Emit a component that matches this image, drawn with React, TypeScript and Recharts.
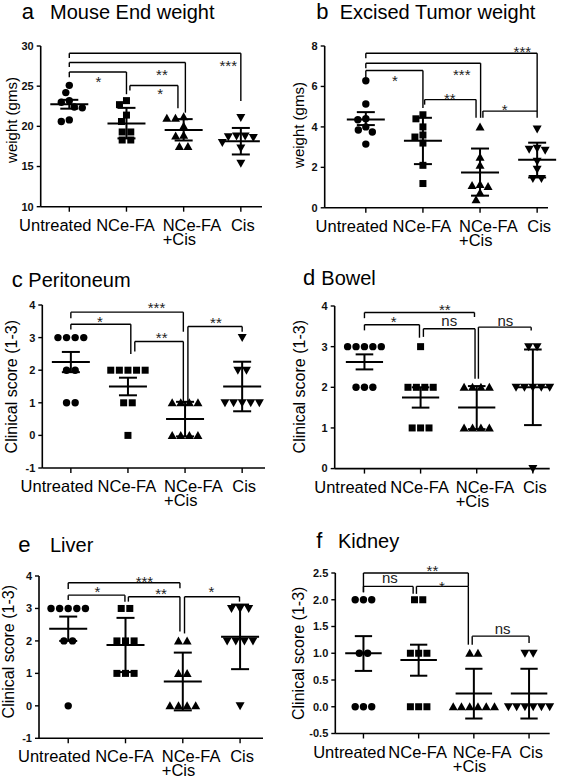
import React from 'react';
import { ScatterChart, Scatter, XAxis, YAxis, ReferenceLine, ReferenceDot } from 'recharts';

const FONT = "Arial, 'Liberation Sans', Helvetica, sans-serif";

const categories = ['Untreated', 'NCe-FA', 'NCe-FA+Cis', 'Cis'];

// ---------- a: Mouse End weight ----------
const aUntreated = [25.1, 24.2, 23.2, 23.0, 22.4, 22.3, 20.8, 20.6];
const aNceFa = [23.2, 22.7, 21.4, 20.6, 19.3, 19.3, 18.3, 18.3];
const aNceFaCis = [21.2, 21.0, 21.0, 20.0, 18.9, 18.8, 17.5, 17.5];
const aCis = [21.1, 18.8, 18.8, 18.7, 18.6, 18.0, 17.3, 15.4];
const aMean = [22.75, 20.35, 19.55, 18.15];
const aHigh = [23.3, 22.3, 20.9, 19.8];
const aLow = [22.2, 18.5, 18.24, 16.5];
const aTicks = [10, 15, 20, 25, 30];
const aBrackets = [
  { x1: 0, x2: 3, y: 29.1, y1: 28.5, y2: 23.15, label: '***', lx: 2.78, ly: 27.87 },
  { x1: 0, x2: 2.03, y: 27.95, y1: 27.4, y2: 21.7, label: '**', lx: 1.62, ly: 26.85 },
  { x1: 0, x2: 1, y: 26.76, y1: 26.1, y2: 24.0, label: '*', lx: 0.51, ly: 25.94 },
  { x1: 1.06, x2: 1.9, y: 25.08, y1: 24.47, y2: 22.25, label: '*', lx: 1.59, ly: 24.4 },
];

// ---------- b: Excised Tumor weight ----------
const bUntreated = [6.28, 5.13, 4.4, 4.35, 4.0, 3.85, 3.75, 3.15];
const bNceFa = [4.6, 4.4, 4.0, 3.6, 3.5, 3.2, 2.1, 1.2];
const bNceFaCis = [4.0, 2.5, 2.1, 1.15, 1.1, 1.05, 0.75, 0.4];
const bCis = [3.9, 2.95, 2.9, 2.85, 2.3, 1.9, 1.45, 1.45];
const bMean = [4.37, 3.31, 1.75, 2.37];
const bHigh = [4.73, 4.45, 2.93, 3.22];
const bLow = [4.09, 2.16, 0.6, 1.5];
const bTicks = [0, 2, 4, 6, 8];
const bBrackets = [
  { x1: 0, x2: 3, y: 7.64, y1: 7.4, y2: 4.78, label: '***', lx: 2.74, ly: 7.86 },
  { x1: 0, x2: 2.01, y: 7.15, y1: 6.9, y2: 4.45, label: '***', lx: 1.68, ly: 6.74 },
  { x1: 0, x2: 1, y: 6.79, y1: 6.45, y2: 4.94, label: '*', lx: 0.51, ly: 6.42 },
  { x1: 1.03, x2: 1.93, y: 5.35, y1: 5.1, y2: 4.45, label: '**', lx: 1.47, ly: 5.52 },
  { x1: 2.05, x2: 3, y: 4.78, y1: 4.45, y2: 4.45, label: '*', lx: 2.43, ly: 4.98 },
];

// ---------- c: Peritoneum ----------
const cUntreated = [3, 3, 3, 3, 2, 2, 1, 1];
const cNceFa = [2, 2, 2, 2, 2, 1, 1, 0];
const cNceFaCis = [1, 1, 1, 1, 0, 0, 0, 0];
const cCis = [3, 2, 2, 1, 1, 1, 1, 1];
const cMean = [2.25, 1.5, 0.5, 1.5];
const cHigh = [2.56, 1.77, 1.03, 2.26];
const cLow = [1.94, 1.23, -0.03, 0.74];
const cTicks = [-1, 0, 1, 2, 3, 4];
const cBrackets = [
  { x1: 0, x2: 1.97, y: 3.78, y1: 3.59, y2: 3.18, label: '***', lx: 1.5, ly: 4.0 },
  { x1: 0, x2: 1.05, y: 3.41, y1: 3.25, y2: 2.5, label: '*', lx: 0.51, ly: 3.59 },
  { x1: 1.12, x2: 1.97, y: 2.88, y1: 2.57, y2: 0.98, label: '**', lx: 1.59, ly: 3.08 },
  { x1: 2.05, x2: 3, y: 3.34, y1: 0.98, y2: 3.18, label: '**', lx: 2.54, ly: 3.56 },
];

// ---------- d: Bowel ----------
const dUntreated = [3, 3, 3, 3, 3, 2, 2, 2];
const dNceFa = [3, 2, 2, 2, 2, 1, 1, 1];
const dNceFaCis = [2, 2, 2, 2, 1, 1, 1, 1];
const dCis = [3, 3, 2, 2, 2, 2, 2, 0];
const dMean = [2.62, 1.75, 1.5, 2.0];
const dHigh = [2.81, 2.0, 2.03, 2.93];
const dLow = [2.44, 1.5, 0.97, 1.07];
const dTicks = [0, 1, 2, 3, 4];
const dBrackets = [
  { x1: 0, x2: 1.96, y: 3.84, y1: 3.7, y2: 3.73, label: '**', lx: 1.43, ly: 3.98 },
  { x1: 0, x2: 0.98, y: 3.54, y1: 3.4, y2: 3.22, label: '*', lx: 0.52, ly: 3.69 },
  { x1: 1.05, x2: 1.97, y: 3.44, y1: 3.24, y2: 2.21, label: 'ns', lx: 1.51, ly: 3.6 },
  { x1: 2.03, x2: 2.97, y: 3.48, y1: 2.21, y2: 3.4, label: 'ns', lx: 2.51, ly: 3.6 },
];

// ---------- e: Liver ----------
const eUntreated = [3, 3, 3, 3, 3, 2, 2, 0];
const eNceFa = [3, 3, 2, 2, 2, 1, 1, 1];
const eNceFaCis = [2, 2, 1, 1, 0, 0, 0, 0];
const eCis = [3, 3, 3, 2, 2, 2, 2, 0];
const eMean = [2.375, 1.875, 0.75, 2.125];
const eHigh = [2.75, 2.71, 1.64, 3.12];
const eLow = [2.0, 1.04, -0.14, 1.13];
const eTicks = [-1, 0, 1, 2, 3, 4];
const eBrackets = [
  { x1: 0, x2: 1.95, y: 3.79, y1: 3.6, y2: 3.62, label: '***', lx: 1.33, ly: 3.9 },
  { x1: 0, x2: 0.99, y: 3.41, y1: 3.26, y2: 3.21, label: '*', lx: 0.51, ly: 3.62 },
  { x1: 1.05, x2: 1.95, y: 3.36, y1: 3.21, y2: 2.29, label: '**', lx: 1.62, ly: 3.54 },
  { x1: 2.03, x2: 2.99, y: 3.36, y1: 2.23, y2: 3.21, label: '*', lx: 2.5, ly: 3.62 },
];

// ---------- f: Kidney ----------
const fUntreated = [2, 2, 2, 1, 1, 0, 0, 0];
const fNceFa = [2, 2, 1, 1, 1, 0, 0, 0];
const fNceFaCis = [1, 1, 0, 0, 0, 0, 0, 0];
const fCis = [1, 1, 0, 0, 0, 0, 0, 0];
const fMean = [1.0, 0.875, 0.25, 0.25];
const fHigh = [1.32, 1.16, 0.71, 0.71];
const fLow = [0.67, 0.58, -0.22, -0.22];
const fTicks = [-0.5, 0, 0.5, 1, 1.5, 2, 2.5];
const fBrackets = [
  { x1: 0, x2: 1.9, y: 2.5, y1: 2.14, y2: 2.25, label: '**', lx: 1.25, ly: 2.6 },
  { x1: 0, x2: 0.9, y: 2.25, y1: 2.14, y2: 2.11, label: 'ns', lx: 0.48, ly: 2.38 },
  { x1: 0.96, x2: 1.9, y: 2.25, y1: 2.11, y2: 1.16, label: '*', lx: 1.42, ly: 2.3 },
  { x1: 1.97, x2: 3, y: 1.32, y1: 1.16, y2: 1.19, label: 'ns', lx: 2.52, ly: 1.44 },
];

// ---------- styles / layout ----------
const MARKER_GAP = 8.6;
const MEAN_HALF = 19;
const CAP_HALF = 9;
const TICK_FONT = 16.5;
const LABEL_FONT = 15;
const catShift = [-14, -1, -21, 2];

type Bracket = { x1: number; x2: number; y: number; y1: number; y2: number; label: string; lx: number; ly: number };
type Spec = {
  letter: string; title: string; ylabel: string; yLabelSize: number;
  groups: number[][]; mean: number[]; high: number[]; low: number[]; brackets: Bracket[];
  yDomain: [number, number]; yTicks: number[]; decimals: number;
  left: number; width: number; plotLeft: number; plotRight: number; plotTop: number; plotBottom: number;
  xDomain: [number, number];
  letterX: number; titleX: number; titleBase: number; ylx: number; yly: number;
};

const panels: Spec[] = [
  {
    letter: 'a', title: 'Mouse End weight', ylabel: 'weight (gms)', yLabelSize: 15,
    groups: [aUntreated, aNceFa, aNceFaCis, aCis], mean: aMean, high: aHigh, low: aLow, brackets: aBrackets,
    yDomain: [10, 30], yTicks: aTicks, decimals: 0,
    left: 0, width: 283, plotLeft: 40.7, plotRight: 262, plotTop: 46, plotBottom: 206.7, xDomain: [-0.5, 3.37],
    letterX: 21.7, titleX: 50, titleBase: 18.5, ylx: 11, yly: 120,
  },
  {
    letter: 'b', title: 'Excised Tumor weight', ylabel: 'weight (gms)', yLabelSize: 15,
    groups: [bUntreated, bNceFa, bNceFaCis, bCis], mean: bMean, high: bHigh, low: bLow, brackets: bBrackets,
    yDomain: [0, 8], yTicks: bTicks, decimals: 0,
    left: 283, width: 284, plotLeft: 324.7, plotRight: 548, plotTop: 45.5, plotBottom: 207.3, xDomain: [-0.72, 3.19],
    letterX: 316.3, titleX: 339.7, titleBase: 18.5, ylx: 298, yly: 125,
  },
  {
    letter: 'c', title: 'Peritoneum', ylabel: 'Clinical score (1-3)', yLabelSize: 16,
    groups: [cUntreated, cNceFa, cNceFaCis, cCis], mean: cMean, high: cHigh, low: cLow, brackets: cBrackets,
    yDomain: [-1, 4], yTicks: cTicks, decimals: 0,
    left: 0, width: 283, plotLeft: 42.3, plotRight: 265, plotTop: 305, plotBottom: 468, xDomain: [-0.5, 3.4],
    letterX: 11.7, titleX: 28.3, titleBase: 286.7, ylx: 11.7, yly: 386.7,
  },
  {
    letter: 'd', title: 'Bowel', ylabel: 'Clinical score (1-3)', yLabelSize: 16,
    groups: [dUntreated, dNceFa, dNceFaCis, dCis], mean: dMean, high: dHigh, low: dLow, brackets: dBrackets,
    yDomain: [0, 4], yTicks: dTicks, decimals: 0,
    left: 283, width: 284, plotLeft: 334.7, plotRight: 549.7, plotTop: 305.7, plotBottom: 468.3, xDomain: [-0.53, 3.22],
    letterX: 303, titleX: 321.3, titleBase: 285, ylx: 299.7, yly: 386.7,
  },
  {
    letter: 'e', title: 'Liver', ylabel: 'Clinical score (1-3)', yLabelSize: 16,
    groups: [eUntreated, eNceFa, eNceFaCis, eCis], mean: eMean, high: eHigh, low: eLow, brackets: eBrackets,
    yDomain: [-1, 4], yTicks: eTicks, decimals: 0,
    left: 0, width: 283, plotLeft: 39, plotRight: 263, plotTop: 576, plotBottom: 738.3, xDomain: [-0.51, 3.4],
    letterX: 18.3, titleX: 50, titleBase: 551.7, ylx: 9, yly: 651.7,
  },
  {
    letter: 'f', title: 'Kidney', ylabel: 'Clinical score (1-3)', yLabelSize: 16,
    groups: [fUntreated, fNceFa, fNceFaCis, fCis], mean: fMean, high: fHigh, low: fLow, brackets: fBrackets,
    yDomain: [-0.5, 2.5], yTicks: fTicks, decimals: 1,
    left: 283, width: 284, plotLeft: 335.3, plotRight: 549.7, plotTop: 573, plotBottom: 733.5, xDomain: [-0.51, 3.22],
    letterX: 316.3, titleX: 338, titleBase: 548.3, ylx: 299, yly: 653.3,
  },
];

// beeswarm-like horizontal spreading of equal / close values (in pixels -> axis units)
function swarm(vals: number[], pxX: number, pxY: number) {
  const sorted = [...vals].sort((a, b) => b - a);
  const rows: number[][] = [];
  sorted.forEach((v) => {
    const last = rows[rows.length - 1];
    if (last && Math.abs(last[0] - v) < 1e-9) last.push(v);
    else rows.push([v]);
  });
  const placed: { x: number; y: number }[] = [];
  const out: { off: number; y: number }[] = [];
  const D = MARKER_GAP;
  rows.forEach((row) => {
    const n = row.length;
    const ypx = row[0] * pxY;
    let best = 0;
    for (let s = 0; s < 200; s++) {
      const c = (s % 2 === 0 ? 1 : -1) * Math.ceil(s / 2) * 0.5;
      const xs = row.map((_, k) => c + (k - (n - 1) / 2) * D);
      const ok = xs.every((x) => placed.every((p) => (p.x - x) ** 2 + (p.y - ypx) ** 2 >= D * D * 0.85));
      if (ok) { best = c; break; }
    }
    row.forEach((v, k) => {
      const x = best + (k - (n - 1) / 2) * D;
      placed.push({ x, y: ypx });
      out.push({ off: x / pxX, y: v });
    });
  });
  return out;
}

function Marker({ kind, cx, cy }: { kind: number; cx: number; cy: number }) {
  if (cx == null || cy == null) return null;
  if (kind === 0) return <circle cx={cx} cy={cy} r={3.7} fill="#000" />;
  if (kind === 1) return <rect x={cx - 3.5} y={cy - 3.5} width={7} height={7} fill="#000" />;
  if (kind === 2)
    return <polygon points={`${cx},${cy - 4.5} ${cx + 4.5},${cy + 3.5} ${cx - 4.5},${cy + 3.5}`} fill="#000" />;
  return <polygon points={`${cx},${cy + 4.5} ${cx + 4.5},${cy - 3.5} ${cx - 4.5},${cy - 3.5}`} fill="#000" />;
}

function Panel({ p }: { p: Spec }) {
  const mTop = 42;
  const top = p.plotTop - mTop;
  const xAxisH = 50;
  const height = p.plotBottom - top + xAxisH;
  const yAxisW = p.plotLeft - p.left;
  const mRight = p.left + p.width - p.plotRight;
  const pxX = (p.plotRight - p.plotLeft) / (p.xDomain[1] - p.xDomain[0]);
  const pxY = (p.plotBottom - p.plotTop) / (p.yDomain[1] - p.yDomain[0]);
  const axisY = p.plotBottom - top;
  const series = p.groups.map((vals, gi) => swarm(vals, pxX, pxY).map((d) => ({ x: gi + d.off, y: d.y })));
  const mh = MEAN_HALF / pxX;
  const ch = CAP_HALF / pxX;

  const catTick = (props: any) => {
    const { x, payload } = props;
    const i = Math.round(payload.value);
    const name = categories[i];
    const common = { fontSize: TICK_FONT, fontFamily: FONT, fill: '#000' };
    if (name.includes('+')) {
      const [l1, l2] = name.split('+');
      const sx = x + catShift[i];
      return (
        <text x={sx} y={axisY + 24} textAnchor="start" {...common}>
          <tspan x={sx}>{l1}</tspan>
          <tspan x={sx} dy={14}>{'+' + l2}</tspan>
        </text>
      );
    }
    return (
      <text x={x + catShift[i]} y={axisY + 24} textAnchor="middle" {...common}>{name}</text>
    );
  };

  const lines: React.ReactNode[] = [];
  const seg = (key: string, x1: number, y1: number, x2: number, y2: number, w: number) =>
    lines.push(
      <ReferenceLine key={key} segment={[{ x: x1, y: y1 }, { x: x2, y: y2 }]} stroke="#000" strokeWidth={w} ifOverflow="visible" />
    );
  p.mean.forEach((m, i) => {
    seg(`m${i}`, i - mh, m, i + mh, m, 2);
    seg(`v${i}`, i, p.low[i], i, p.high[i], 2);
    seg(`h${i}`, i - ch, p.high[i], i + ch, p.high[i], 2);
    seg(`l${i}`, i - ch, p.low[i], i + ch, p.low[i], 2);
  });
  p.brackets.forEach((b, k) => {
    seg(`bh${k}`, b.x1, b.y, b.x2, b.y, 1.4);
    seg(`bl${k}`, b.x1, b.y, b.x1, b.y1, 1.4);
    seg(`br${k}`, b.x2, b.y, b.x2, b.y2, 1.4);
  });

  return (
    <div style={{ position: 'absolute', left: p.left, top }}>
      <ScatterChart width={p.width} height={height} margin={{ top: mTop, right: mRight, bottom: 0, left: 0 }}>
        <XAxis
          type="number"
          dataKey="x"
          domain={p.xDomain}
          ticks={[0, 1, 2, 3]}
          interval={0}
          height={xAxisH}
          tick={catTick}
          tickSize={5}
          axisLine={{ stroke: '#000', strokeWidth: 1.6 }}
          tickLine={{ stroke: '#000', strokeWidth: 1.4 }}
        />
        <YAxis
          type="number"
          dataKey="y"
          domain={p.yDomain}
          ticks={p.yTicks}
          interval={0}
          width={yAxisW}
          tickSize={4}
          tickMargin={3}
          tickFormatter={(v: number) => v.toFixed(p.decimals)}
          tick={{ fontSize: 11, fontWeight: 700, fill: '#111', fontFamily: FONT }}
          axisLine={{ stroke: '#000', strokeWidth: 1.6 }}
          tickLine={{ stroke: '#000', strokeWidth: 1.4 }}
        />
        {lines}
        {series.map((data, gi) => (
          <Scatter
            key={`s${gi}`}
            data={data}
            isAnimationActive={false}
            shape={(sp: any) => <Marker kind={gi} cx={sp.cx} cy={sp.cy} />}
          />
        ))}
        {p.brackets.map((b, k) => (
          <ReferenceDot
            key={`t${k}`}
            x={b.lx}
            y={b.ly}
            r={0}
            ifOverflow="visible"
            shape={(sp: any) => (
              <text
                x={sp.cx}
                y={sp.cy + (b.label.includes('*') ? 0.55 : 0.27) * LABEL_FONT}
                textAnchor="middle"
                fontSize={LABEL_FONT}
                fontFamily={FONT}
                fill="#222"
              >
                {b.label}
              </text>
            )}
          />
        ))}
      </ScatterChart>
    </div>
  );
}

export default function App() {
  return (
    <div style={{ position: 'absolute', left: 0, top: 0, width: 567, height: 779, background: '#fff', overflow: 'hidden' }}>
      {panels.map((p) => (
        <Panel key={p.letter} p={p} />
      ))}
      <svg width={567} height={779} style={{ position: 'absolute', left: 0, top: 0, pointerEvents: 'none' }}>
        {panels.map((p) => (
          <g key={`lab${p.letter}`} fontFamily={FONT} fill="#000">
            <text x={p.letterX} y={p.titleBase} fontSize={22}>{p.letter}</text>
            <text x={p.titleX} y={p.titleBase} fontSize={20}>{p.title}</text>
            <text
              x={p.ylx}
              y={p.yly}
              fontSize={p.yLabelSize}
              textAnchor="middle"
              dominantBaseline="central"
              transform={`rotate(-90 ${p.ylx} ${p.yly})`}
            >
              {p.ylabel}
            </text>
          </g>
        ))}
      </svg>
    </div>
  );
}
